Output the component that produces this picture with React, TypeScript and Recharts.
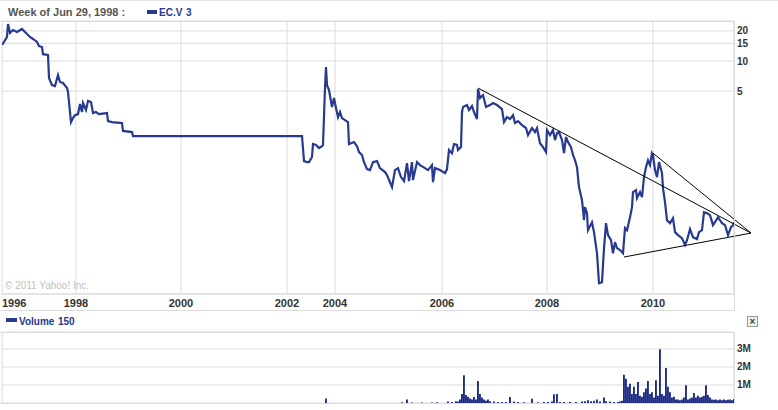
import { Bar, BarChart, CartesianGrid, ComposedChart, Line, ReferenceLine, XAxis, YAxis } from "recharts";

const FONT = "'Liberation Sans', Arial, Helvetica, sans-serif";
const NAVY = "#283a8f";

// weekly close of EC.V on a trading-week index (halted weeks are left out)
const priceWeeks = [
  0, 2, 5, 6, 8, 11, 15, 20, 23, 28, 31, 35, 37, 40, 41, 46, 47, 50, 53, 56, 58, 61, 65, 66, 69, 71, 73, 76, 78, 80,
  81, 84, 86, 89, 91, 94, 97, 105, 106, 110, 120, 121, 130, 131, 300,
  302, 305, 307, 310, 311, 314, 317, 320, 321, 323, 324, 325, 327, 330, 332, 334, 336, 338, 340, 343,
  346, 347, 352, 355, 357, 360, 362, 365, 368, 371, 375, 378, 383, 385, 390, 393, 396, 399, 402, 405,
  407, 410, 411, 415, 418, 423, 426, 430, 431, 433, 438,
  443, 445, 447, 450, 452, 455, 456, 459, 460, 461, 465, 467, 470, 472, 475, 476, 478, 481, 484, 488,
  491, 495, 500, 502, 505, 508, 511, 513, 516, 520, 524, 526, 530, 533, 535, 538, 541, 544, 545, 548,
  551, 553, 555, 557, 560, 562, 564, 566, 569, 571, 573, 575, 577, 580, 582, 583, 585, 586, 590, 592,
  595, 597, 600, 602, 604, 606, 609, 611, 613, 615, 618,
  621, 623, 625, 628, 630, 631, 634, 635, 638, 640, 642, 644, 646, 648, 650, 651, 653, 655, 657, 660,
  661, 663, 665, 668, 671, 673, 676, 680, 683, 685, 688, 691, 695, 697, 700, 702, 705, 708, 711, 713,
  716, 720, 723, 726, 729, 731, 732,
];
const prices = [
  14.5, 15.5, 17.4, 23.4, 19.1, 20.4, 19.5, 20.9, 19.5, 17.4, 16.6, 15.5, 14.1, 13.8, 11.7, 11.5, 6.76, 5.75, 5.62, 7.24,
  6.17, 6.03, 5.37, 4.9, 2.45, 2.69, 2.88, 2.95, 3.72, 3.09, 3.8, 3.24, 3.98, 3.89, 3.02, 3.09, 2.95, 3.02, 2.51, 2.45,
  2.4, 2.0, 1.95, 1.78, 1.78,
  1.0, 0.977, 0.977, 1.1, 1.48, 1.45, 1.35, 1.41, 1.45, 5.37, 8.71, 5.75, 5.13, 3.47, 4.27, 3.39, 2.75, 3.09, 2.69, 2.57,
  2.45, 1.48, 1.55, 1.41, 1.23, 1.15, 0.977, 0.832, 0.813, 0.977, 1.0, 0.851, 0.776, 0.724, 0.55, 0.813, 0.851, 0.692, 0.631, 0.955,
  0.631, 0.977, 0.646, 0.977, 0.912, 0.851, 0.813, 0.912, 0.617, 0.851, 0.813,
  0.759, 0.832, 1.29, 1.2, 1.48, 1.45, 1.29, 1.38, 3.09, 3.47, 3.63, 3.24, 3.55, 3.09, 2.63, 5.25, 4.27, 4.57, 3.47, 3.63,
  3.8, 3.63, 3.31, 2.45, 2.75, 2.63, 2.88, 2.4, 2.51, 2.29, 2.14, 1.82, 2.14, 1.95, 2.14, 1.51, 1.38, 1.23, 2.04, 1.82,
  2.04, 1.62, 1.91, 1.95, 1.62, 1.2, 1.74, 1.55, 1.38, 1.15, 1.02, 0.871, 0.55, 0.407, 0.257, 0.347, 0.302, 0.204, 0.245, 0.195,
  0.12, 0.0603, 0.0617, 0.135, 0.24, 0.182, 0.162, 0.12, 0.155, 0.135, 0.129,
  0.12, 0.214, 0.204, 0.275, 0.347, 0.49, 0.513, 0.427, 0.49, 0.437, 0.692, 0.871, 1.02, 0.912, 1.2, 1.15, 0.813, 0.692, 0.977, 0.759,
  0.537, 0.389, 0.257, 0.24, 0.269, 0.195, 0.182, 0.17, 0.145, 0.162, 0.209, 0.174, 0.166, 0.195, 0.204, 0.309, 0.302, 0.288, 0.229, 0.245,
  0.275, 0.24, 0.229, 0.182, 0.219, 0.229, 0.245,
];

// weekly volume, millions of shares (one bar every 2 weeks at most)
const volumeWeeks = [
  324, 400, 405, 410, 420, 430, 435, 446, 450, 454,
  456, 458, 460, 462, 464, 466, 468, 470, 472, 474,
  476, 478, 480, 482, 484, 486, 488, 492, 496, 500,
  504, 508, 512, 516, 522, 530, 536, 542, 546, 550,
  552, 555, 558, 562, 568, 574, 580, 583, 586, 589,
  592, 595, 598, 602, 604, 608, 612, 616, 618, 620,
  622, 624, 626, 628, 630, 632, 634, 636, 638, 640,
  642, 644, 646, 648, 650, 652, 654, 656, 658, 660,
  662, 664, 666, 668, 670, 672, 674, 676, 678, 680,
  682, 684, 686, 688, 690, 692, 694, 696, 698, 700,
  702, 704, 706, 708, 710, 712, 714, 716, 718, 720,
  722, 724, 726, 728, 730, 732,
];
const volumes = [
  0.25, 0.04, 0.2, 0.03, 0.03, 0.03, 0.04, 0.08, 0.06, 0.1,
  0.08, 0.2, 0.5, 1.54, 0.45, 0.35, 0.25, 0.2, 0.33, 0.2,
  1.22, 0.5, 0.3, 0.2, 0.12, 0.2, 0.1, 0.08, 0.05, 0.06,
  0.05, 0.33, 0.08, 0.06, 0.04, 0.24, 0.04, 0.05, 0.06, 0.08,
  0.48, 0.5, 0.06, 0.05, 0.06, 0.05, 0.08, 0.1, 0.15, 0.1,
  0.12, 0.2, 0.08, 0.3, 0.1, 0.08, 0.06, 0.06, 0.08, 0.12,
  1.57, 1.35, 0.9, 1.07, 0.5, 0.9, 0.5, 1.17, 0.4, 0.35,
  0.6, 0.8, 1.22, 0.5, 0.6, 0.3, 1.26, 0.4, 2.98, 0.5,
  0.4, 1.94, 0.9, 0.6, 0.3, 0.35, 0.2, 0.2, 0.15, 0.2,
  0.3, 0.98, 0.2, 0.25, 0.3, 0.55, 0.3, 0.4, 0.3, 0.35,
  0.4, 0.98, 0.45, 0.3, 0.2, 0.18, 0.2, 0.15, 0.2, 0.15,
  0.2, 0.15, 0.18, 0.2, 0.15, 0.22,
];

const yearTickWeeks = [0, 74, 179, 285, 333, 440, 545, 651];
const yearLabels = ["1996", "1998", "2000", "2002", "2004", "2006", "2008", "2010"];
const priceTicks = [5, 10, 15, 20];
const volumeTicks = [1, 2, 3];

// hand-drawn triangle: three lines meeting at one apex
const trendStartWeeks = [476, 651, 622];
const trendStartPrices = [5.37, 1.2, 0.11];
const apexWeek = 749;
const apexPrice = 0.191;

const priceData = priceWeeks.map((week, i) => ({ week, price: prices[i] }));
const volumeData = volumeWeeks.map((week, i) => ({ week, vol: volumes[i] }));

function YearTick(props: any) {
  const { x, y, payload } = props;
  const idx = yearTickWeeks.indexOf(payload.value);
  return (
    <text x={x} y={y + 13} textAnchor={idx === 0 ? "start" : "middle"} fontSize={11} fontWeight="bold" fill="#333" fontFamily={FONT}>
      {yearLabels[idx]}
    </text>
  );
}

function ValueTick(props: any) {
  const { x, y, payload, suffix } = props;
  return (
    <text x={x} y={y + 3.5} textAnchor="start" fontSize={10} fontWeight="bold" fill="#333" fontFamily={FONT}>
      {`${payload.value}${suffix ?? ""}`}
    </text>
  );
}

export default function App() {
  const grid = "#dcdcdc";
  return (
    <div style={{ position: "relative", width: 778, height: 410, background: "#fff", overflow: "hidden", fontFamily: FONT }}>
      <style>{"body{margin:0}"}</style>

      <div style={{ position: "absolute", left: 0, top: 0 }}>
        <ComposedChart width={778} height={312} data={priceData} margin={{ top: 21, right: 0, bottom: 0, left: 2 }}>
          <CartesianGrid stroke={grid} />
          <XAxis
            dataKey="week"
            type="number"
            domain={[0, 732]}
            allowDataOverflow
            ticks={yearTickWeeks}
            interval={0}
            height={18}
            tickSize={0}
            tickMargin={0}
            tickLine={false}
            axisLine={{ stroke: grid }}
            tick={<YearTick />}
          />
          <YAxis
            orientation="right"
            type="number"
            scale="log"
            domain={[0.047, 25.1]}
            allowDataOverflow
            ticks={priceTicks}
            interval={0}
            width={44}
            tickSize={0}
            tickMargin={3}
            tickLine={false}
            axisLine={false}
            tick={<ValueTick />}
          />
          <ReferenceLine x={732} stroke={grid} />
          <Line
            dataKey="price"
            type="linear"
            stroke={NAVY}
            strokeWidth={2.2}
            dot={false}
            isAnimationActive={false}
          />
          {trendStartWeeks.map((w, i) => (
            <ReferenceLine
              key={w}
              segment={[
                { x: w, y: trendStartPrices[i] },
                { x: apexWeek, y: apexPrice },
              ]}
              stroke="#000"
              strokeWidth={1}
              ifOverflow="visible"
            />
          ))}
        </ComposedChart>
      </div>

      <div style={{ position: "absolute", left: 0, top: 330 }}>
        <BarChart
          width={778}
          height={80}
          data={volumeData}
          barCategoryGap={0}
          margin={{ top: 2, right: 0, bottom: 7, left: 2 }}
        >
          <CartesianGrid stroke={grid} />
          <XAxis
            dataKey="week"
            type="number"
            domain={[0, 732]}
            allowDataOverflow
            ticks={yearTickWeeks}
            interval={0}
            height={0}
            tick={false}
            tickLine={false}
            axisLine={false}
          />
          <YAxis
            orientation="right"
            type="number"
            domain={[0, 3.94]}
            allowDataOverflow
            ticks={volumeTicks}
            interval={0}
            width={44}
            tickSize={0}
            tickMargin={3}
            tickLine={false}
            axisLine={false}
            tick={<ValueTick suffix="M" />}
          />
          <Bar dataKey="vol" fill="#1f2c86" barSize={1.9} isAnimationActive={false} />
        </BarChart>
      </div>

      <svg width={778} height={410} style={{ position: "absolute", left: 0, top: 0, pointerEvents: "none" }}>
        <line x1={0} x2={778} y1={0.5} y2={0.5} stroke="#e4e4e4" />
        <line x1={0} x2={734} y1={21.5} y2={21.5} stroke={grid} />
        <line x1={0} x2={734} y1={310.5} y2={310.5} stroke={grid} />
        <line x1={734.5} x2={734.5} y1={21} y2={310} stroke={grid} />
        <line x1={0} x2={734} y1={332.5} y2={332.5} stroke={grid} />
        <line x1={0} x2={734} y1={403.5} y2={403.5} stroke={grid} />
        <line x1={734.5} x2={734.5} y1={332} y2={404} stroke={grid} />

        <text x={8} y={15.5} fontSize={11} fontWeight="bold" fill="#555" fontFamily={FONT}>
          Week of Jun 29, 1998 :
        </text>
        <rect x={147} y={10} width={10} height={4} fill={NAVY} />
        <text x={159} y={15.5} fontSize={10} fontWeight="bold" fill="#26378c" fontFamily={FONT}>
          EC.V
        </text>
        <text x={186} y={15.5} fontSize={10} fontWeight="bold" fill="#26378c" fontFamily={FONT}>
          3
        </text>

        <text x={5} y={289} fontSize={10} fill="#c0c0c0" fontFamily={FONT}>
          © 2011 Yahoo! Inc.
        </text>

        <rect x={6} y={318} width={11} height={4} fill={NAVY} />
        <text x={19} y={324.5} fontSize={10} fontWeight="bold" fill="#26378c" fontFamily={FONT}>
          Volume
        </text>
        <text x={58} y={324.5} fontSize={10} fontWeight="bold" fill="#26378c" fontFamily={FONT}>
          150
        </text>

        <rect x={747.5} y={316.5} width={10} height={10} fill="#f2f2f2" stroke="#999" />
        <text x={752.5} y={325} textAnchor="middle" fontSize={10} fontWeight="bold" fill="#444" fontFamily={FONT}>
          ×
        </text>
      </svg>
    </div>
  );
}
